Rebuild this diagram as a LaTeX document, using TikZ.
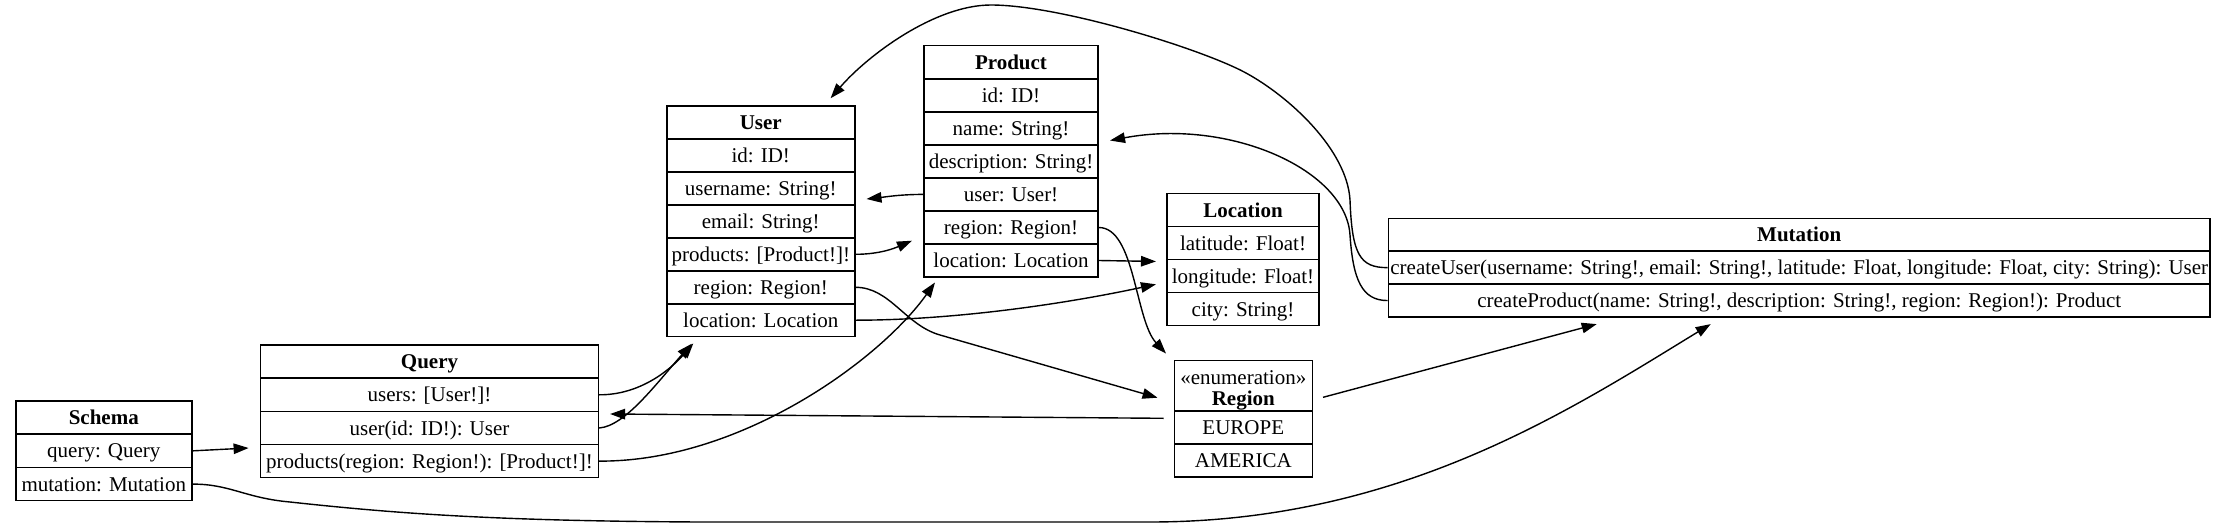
\documentclass[tikz,border=0pt]{standalone}
\usepackage{fontspec}
\setmainfont{Liberation Serif}
\usetikzlibrary{arrows.meta}
\begin{document}
\begin{tikzpicture}[x=1pt,y=-1pt,
  fld/.style={draw, line width=1.5pt, inner sep=0pt, minimum height=33pt, text height=14pt, text depth=0pt, font=\fontsize{21pt}{25pt}\selectfont},
  hdr/.style={fld, font=\fontsize{21pt}{25pt}\selectfont\bfseries},
  wS/.style={minimum width=176pt},
  wQ/.style={minimum width=337.7pt},
  wU/.style={minimum width=187.9pt},
  wP/.style={minimum width=174pt},
  wL/.style={minimum width=152pt},
  wR/.style={minimum width=138pt},
  wM/.style={minimum width=821.7pt},
  edge/.style={line width=1.4pt, -{Triangle[length=15pt,width=10.5pt]}}]
\fill[white] (0,0) rectangle (2227,530);
\useasboundingbox (0,0) rectangle (2227,530);

% Schema
\node[hdr,wS] (sh) at (103.8,417.6) {Schema};
\node[fld,wS] (sq) at (103.8,450.85) {query: Query};
\node[fld,wS] (sm) at (103.8,484.1) {mutation: Mutation};

% Query
\node[hdr,wQ] (qh) at (429.5,361.6) {Query};
\node[fld,wQ] (qusers) at (429.5,394.8) {users: [User!]!};
\node[fld,wQ] (quser) at (429.5,428.0) {user(id: ID!): User};
\node[fld,wQ] (qprod) at (429.5,461.1) {products(region: Region!): [Product!]!};

% User
\node[hdr,wU] (uhead) at (760.8,122.5) {User};
\node[fld,wU] (uid) at (760.8,155.4) {id: ID!};
\node[fld,wU] (uusername) at (760.8,188.4) {username: String!};
\node[fld,wU] (uemail) at (760.8,221.4) {email: String!};
\node[fld,wU] (uproducts) at (760.8,254.3) {products: [Product!]!};
\node[fld,wU] (uregion) at (760.8,287.3) {region: Region!};
\node[fld,wU] (uloc) at (760.8,320.2) {location: Location};

% Product
\node[hdr,wP] (phead) at (1011,62.2) {Product};
\node[fld,wP] (pid) at (1011,95.3) {id: ID!};
\node[fld,wP] (pname) at (1011,128.3) {name: String!};
\node[fld,wP] (pdesc) at (1011,161.4) {description: String!};
\node[fld,wP] (puser) at (1011,194.4) {user: User!};
\node[fld,wP] (pregion) at (1011,227.5) {region: Region!};
\node[fld,wP] (ploc) at (1011,260.5) {location: Location};

% Location
\node[hdr,wL] (lhead) at (1243,210.2) {Location};
\node[fld,wL] (llat) at (1243,243.2) {latitude: Float!};
\node[fld,wL] (llong) at (1243,276.2) {longitude: Float!};
\node[fld,wL] (lcity) at (1243,309.2) {city: String!};

% Region
\node[draw, line width=1.5pt, inner sep=0pt, wR, minimum height=50.4pt, align=center,
      font=\fontsize{21pt}{21pt}\selectfont] (rhead) at (1243.3,385.5) {\rule{0pt}{24pt}«enumeration»\\\textbf{Region}};
\node[fld,wR] (reurope) at (1243.3,427.3) {EUROPE};
\node[fld,wR] (ramerica) at (1243.3,460.5) {AMERICA};

% Mutation
\node[hdr,wM] (mhead) at (1799.2,234.75) {Mutation};
\node[fld,wM] (mcu) at (1799.2,267.65) {createUser(username: String!, email: String!, latitude: Float, longitude: Float, city: String): User};
\node[fld,wM] (mcp) at (1799.2,300.55) {createProduct(name: String!, description: String!, region: Region!): Product};

% Edges
\draw[edge] (sq.east) -- ([shift={(-11.3,-13.1)}]qprod.west);
\draw[edge] (sm.east) .. controls (230,484) and (245,498) .. (290,502)
  .. controls (400,514) and (500,521) .. (700,522) -- (1150,522)
  .. controls (1400,522) and (1570,410) .. ([shift={(-88.5,6.3)}]mcp.south);
\draw[edge] (qusers.east) .. controls (640,395) and (670,370) .. ([shift={(-67.5,6)}]uloc.south);
\draw[edge] (quser.east) .. controls (625,426) and (655,385) .. ([shift={(-69.1,6.3)}]uloc.south);
\draw[edge] ([shift={(-10,-9)}]reurope.west) -- ([shift={(11,-14)}]quser.east);
\draw[edge] (qprod.east) .. controls (740,462) and (880,360) .. ([shift={(-76,4.7)}]ploc.south);
\draw[edge] (puser.west) .. controls (900,194.4) and (885,197) .. ([shift={(11,10.6)}]uusername.east);
\draw[edge] (uproducts.east) .. controls (880,254.3) and (895,248) .. ([shift={(-11.3,13.2)}]pregion.west);
\draw[edge] (uregion.east) .. controls (890,287.3) and (905,325) .. (940,335) -- ([shift={(-16,12.2)}]rhead.west);
\draw[edge] (uloc.east) .. controls (950,320.2) and (1060,305) .. ([shift={(-10.3,8.1)}]llong.west);
\draw[edge] (pregion.east) .. controls (1135,227.5) and (1135,320) .. ([shift={(-77.3,-6)}]rhead.north);
\draw[edge] (ploc.east) -- ([shift={(-10.3,1)}]llat.south west);
\draw[edge] (mcu.west) .. controls (1360,267.65) and (1352,255) .. (1350,200)
  .. controls (1347,150) and (1290,97) .. (1246,73)
  .. controls (1202,49) and (1060,5) .. (991,5)
  .. controls (935,5) and (868,55) .. ([shift={(69.8,-7)}]uhead.north);
\draw[edge] (mcp.west) .. controls (1362,300.55) and (1353,280) .. (1350,235)
  .. controls (1346,170) and (1230,118) .. ([shift={(11.3,12.2)}]pname.east);
\draw[edge] ([shift={(10,11.8)}]rhead.east) -- ([shift={(-202.5,6.3)}]mcp.south);
\end{tikzpicture}
\end{document}
